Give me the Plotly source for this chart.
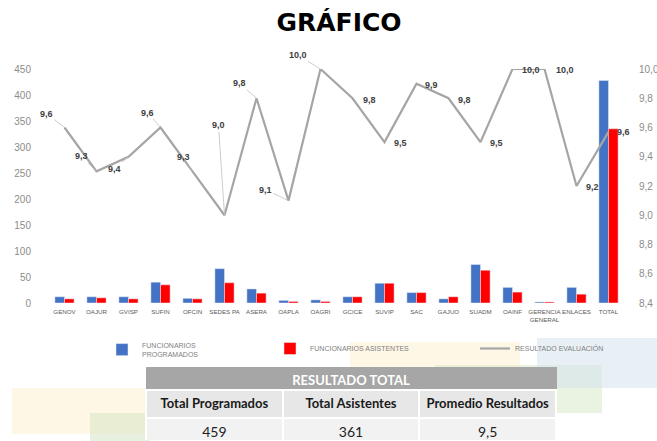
import plotly.graph_objects as go

categories = ["GENOV", "OAJUR", "GVISP", "SUFIN", "OFCIN", "SEDES PA", "ASERA", "OAPLA", "OAGRI",
              "GCICE", "SUVIP", "SAC", "GAJUO", "SUADM", "OAINF", "GERENCIA<br>GENERAL", "ENLACES", "TOTAL"]
programados = [12, 12, 12, 40, 9, 66, 27, 5, 6, 12, 38, 20, 8, 74, 30, 2, 30, 428]
asistentes = [8, 10, 8, 35, 8, 39, 19, 3, 3, 12, 38, 20, 12, 63, 21, 2, 17, 335]
resultado = [9.6, 9.3, 9.4, 9.6, 9.3, 9.0, 9.8, 9.1, 10.0, 9.8, 9.5, 9.9, 9.8, 9.5, 10.0, 10.0, 9.2, 9.57]

left_ticks = [0, 50, 100, 150, 200, 250, 300, 350, 400, 450]

table_title = "RESULTADO TOTAL"
table_headers = ["Total Programados", "Total Asistentes", "Promedio Resultados"]
table_values = ["459", "361", "9,5"]

# label offsets (pixels) and whether a leader line is drawn
label_style = [(-18, -14, True), (-15, -15, True), (-14, 12, True), (-13, -15, True), (-9, -14, True),
               (-6, -90, True), (-17, -15, True), (-23, -11, True), (-23, -14, True),
               (17, 2, False), (16, 1, False), (15, 1, False), (16, 2, False), (16, 1, False),
               (18, 1, False), (20, 1, False), (16, 1, False), (15, 0, False)]

NB = "\u00a0"


def px_x(p):
    return (p - 38) / 594


def px_y(p):
    return (441 - p) / 372


fig = go.Figure()
fig.add_trace(go.Bar(x=categories, y=programados, name="FUNCIONARIOS<br>PROGRAMADOS",
                     marker_color="#4472C4", legend="legend"))
fig.add_trace(go.Bar(x=categories, y=asistentes, name="FUNCIONARIOS ASISTENTES",
                     marker_color="#FF0000", legend="legend2"))
fig.add_trace(go.Scatter(x=categories, y=resultado, name="RESULTADO EVALUACIÓN", mode="lines",
                         line=dict(color="#A5A5A5", width=2.2), yaxis="y2", legend="legend3"))

for c, v, (ax, ay, lead) in zip(categories, resultado, label_style):
    fig.add_annotation(x=c, y=v, yref="y2", text="<b>" + f"{v:.1f}".replace(".", ",") + "</b>",
                       showarrow=True, ax=ax, ay=ay, arrowhead=0, arrowwidth=0.8,
                       arrowcolor="#BFBFBF" if lead else "rgba(0,0,0,0)", standoff=0,
                       font=dict(size=9, color="#404040", family="Liberation Sans"))

tx = [px_x(146), px_x(557)]
# title row
fig.add_trace(go.Table(
    domain=dict(x=tx, y=[px_y(390), px_y(367)]),
    columnwidth=[1, 1, 1],
    header=dict(values=["", table_title.replace(" ", NB), ""],
                fill_color="#A6A6A6", line_color="#A6A6A6", height=23,
                font=dict(color="white", size=13, family="Lato", weight=700), align="center")))
# column titles and values
fig.add_trace(go.Table(
    domain=dict(x=tx, y=[0, px_y(390)]),
    columnwidth=[1, 1, 1],
    header=dict(values=[h.replace(" ", NB) for h in table_headers],
                fill_color="#E7E7E7", line=dict(color="white", width=2), height=28,
                font=dict(color="#1A1A1A", size=13, family="Lato", weight=700), align="center"),
    cells=dict(values=[[v] for v in table_values],
               fill_color="#F2F2F2", line=dict(color="white", width=2), height=23,
               font=dict(color="#222222", size=14, family="Lato"), align="center")))

blobs = [
    (12, 388, 150, 434, "rgba(253,240,205,0.5)"),
    (350, 342, 520, 378, "rgba(253,240,205,0.5)"),
    (90, 413, 150, 441, "rgba(214,230,196,0.55)"),
    (435, 365, 602, 413, "rgba(214,230,196,0.5)"),
    (537, 338, 657, 388, "rgba(210,225,238,0.5)"),
]
for x0, y0, x1, y1, col in blobs:
    fig.add_shape(type="rect", xref="paper", yref="paper", x0=px_x(x0), x1=px_x(x1),
                  y0=px_y(y1), y1=px_y(y0), fillcolor=col, line_width=0, layer="below")

legend_font = dict(size=7, color="#7F7F7F", family="Liberation Sans")
fig.update_layout(
    width=657, height=441, autosize=False,
    margin=dict(l=38, r=25, t=69, b=0, autoexpand=False),
    paper_bgcolor="white", plot_bgcolor="rgba(0,0,0,0)",
    separators=",.",
    barmode="group", bargap=0.4, bargroupgap=0,
    title=dict(text="<b>GRÁFICO</b>", x=px_x(339), xref="paper", xanchor="center", y=0.95, yanchor="middle",
               font=dict(size=25, color="black", family="DejaVu Sans")),
    xaxis=dict(domain=[0, 1], showgrid=False, showline=False, zeroline=False, ticks="",
               tickangle=0, ticklabelstandoff=4, automargin=False,
               tickfont=dict(size=6.2, color="#595959", family="Liberation Sans")),
    yaxis=dict(domain=[px_y(303), 1], range=[0, 450], tickvals=left_ticks, showgrid=False,
               zeroline=False, showline=False, ticklabelstandoff=6, automargin=False,
               tickfont=dict(size=10, color="#8C8C8C", family="Liberation Sans")),
    yaxis2=dict(overlaying="y", side="right", range=[8.4, 10.0], dtick=0.2, tickformat=".1f",
                showgrid=False, zeroline=False, showline=False, ticklabelstandoff=6, automargin=False,
                tickfont=dict(size=10, color="#8C8C8C", family="Liberation Sans")),
    legend=dict(x=px_x(102), y=px_y(334), xanchor="left", yanchor="top", font=legend_font,
                bgcolor="rgba(0,0,0,0)", itemwidth=30),
    legend2=dict(x=px_x(270), y=px_y(334), xanchor="left", yanchor="top", font=legend_font,
                 bgcolor="rgba(0,0,0,0)", itemwidth=30),
    legend3=dict(x=px_x(475), y=px_y(334), xanchor="left", yanchor="top", font=legend_font,
                 bgcolor="rgba(0,0,0,0)", itemwidth=30),
    showlegend=True,
)

fig.write_html("out.html")
